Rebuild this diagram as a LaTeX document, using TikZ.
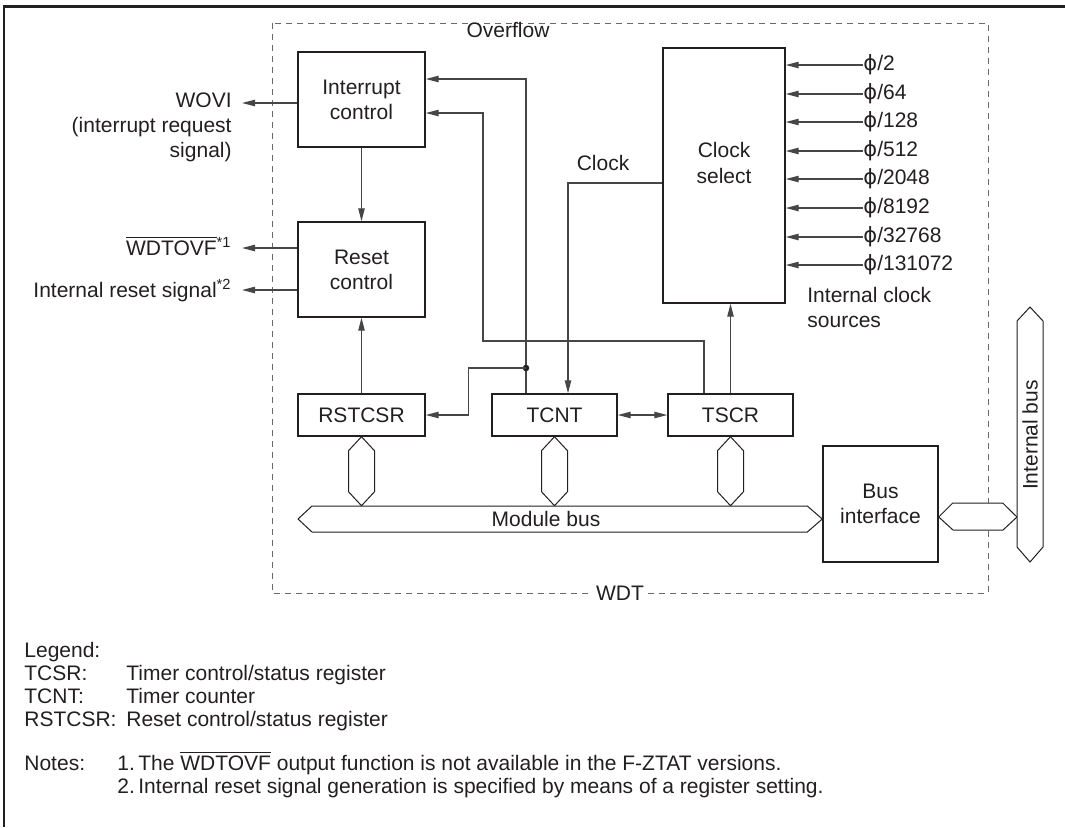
\documentclass[tikz,border=0pt]{standalone}
\usepackage{fontspec}
\setmainfont{Liberation Sans}
\newfontfamily\phifont{DejaVu Sans}
\usepackage{tikz}
\usetikzlibrary{
    calc,
    arrows.meta
}
\definecolor{ink}{RGB}{35,31,32}
\definecolor{filo}{RGB}{70,70,70}
\definecolor{tratto}{RGB}{105,105,105}

\newcommand{\fsym}{{\phifont ϕ}}
\newcommand{\wdtovf}{$\overline{\mbox{WDTOVF}}$}

\begin{document}
\begin{tikzpicture}[x=0.5pt,y=-0.5pt,>={Triangle[length=6.5pt,width=3.2pt]},
    every node/.style={font=\fontsize{10.5}{12.6}\selectfont,text=ink},
    blocco/.style={draw=ink,line width=0.7pt,fill=white,inner sep=0pt,align=center},
    bus/.style={draw=ink,line width=0.5pt,fill=white},
    filo/.style={draw=filo,line width=0.6pt},
    testo/.style={inner sep=0pt}]

\useasboundingbox (0,0) rectangle (1065,827);

%====================================================
% Cornice e riquadro WDT
%====================================================

\draw[ink,line width=1.5pt] (3,6) -- (1065,6);
\draw[ink,line width=1pt] (4,6) -- (4,827);

\draw[tratto,line width=0.5pt,dash pattern=on 3pt off 2.5pt] (272,23) rectangle (988,593);
\node[fill=white,inner sep=2pt] (wdt) at (620,593) {WDT};

%====================================================
% Blocchi
%====================================================

\node[blocco,minimum width=63.5pt,minimum height=47.5pt] (intc) at (361.5,99.5) {Interrupt\\control};
\node[blocco,minimum width=63.5pt,minimum height=47.5pt] (rstc) at (361.5,269.5) {Reset\\control};
\node[blocco,minimum width=61pt,minimum height=127.5pt] (csel) at (724,175.5) {};
\node[testo,align=center] (cseltxt) at (724,163) {Clock\\select};

\node[blocco,minimum width=63.5pt,minimum height=21pt] (rstcsr) at (361.5,415) {RSTCSR};
\node[blocco,minimum width=62.5pt,minimum height=21pt] (tcnt) at (554.5,415) {TCNT};
\node[blocco,minimum width=62.5pt,minimum height=21pt] (tscr) at (730.5,415) {TSCR};

\node[blocco,minimum width=57.5pt,minimum height=58pt] (busif) at (880.5,504) {Bus\\interface};

%====================================================
% Bus
%====================================================

\draw[bus] (rstcsr.south) -- ++(13,14) -- ++(0,41) -- ++(-13,14) -- ++(-13,-14) -- ++(0,-41) -- cycle;
\draw[bus] (tcnt.south) -- ++(13,14) -- ++(0,41) -- ++(-13,14) -- ++(-13,-14) -- ++(0,-41) -- cycle;
\draw[bus] (tscr.south) -- ++(13,14) -- ++(0,41) -- ++(-13,14) -- ++(-13,-14) -- ++(0,-41) -- cycle;

\coordinate (mbl) at (298,519);
\coordinate (mbr) at (busif.west|-mbl);
\draw[bus] (mbl) -- ++(14,-13) -- ($(mbr)+(-15,-13)$) -- (mbr) -- ($(mbr)+(-15,13)$) -- ($(mbl)+(14,13)$) -- cycle;
\node (mbus) at (546,519) {Module bus};

\coordinate (ibl) at (1017,517);
\draw[bus] (busif.east|-ibl) -- ++(14,-14) -- ++(50,0) -- (ibl) -- ++(-14,13) -- ++(-50,0) -- cycle;

\draw[bus] (1030,307) -- (1043,321) -- (1043,547) -- (1030,562) -- (1017,547) -- (1017,321) -- cycle;
\node[rotate=90] (ibus) at (1030,435) {Internal bus};

%====================================================
% Collegamenti interni
%====================================================

\draw[filo,->] (intc) -- (rstc);
\draw[filo,->] (rstcsr) -- (rstc);
\draw[filo,->] (tscr.north) -- (tscr.north|-csel.south);
\draw[filo,<->] (tcnt) -- (tscr);

\coordinate (ovf) at (526,79);
\coordinate (jct) at (526,368);
\draw[filo,->] (tcnt.north-|ovf) -- (ovf) -- (intc.east|-ovf);
\filldraw[ink] (jct) circle (1.4pt);
\draw[filo,->] (jct) -| ($(rstcsr.east)+(43,0)$) -- (rstcsr.east);
\node (ovftxt) at (508,30) {Overflow};

\coordinate (tsr) at (704,341);
\coordinate (tsl) at (483,113);
\draw[filo,->] (tscr.north-|tsr) -- (tsr) -| (tsl) -- (intc.east|-tsl);

\coordinate (clk) at (568,183);
\draw[filo,->] (csel.west|-clk) -- (clk) -- (clk|-tcnt.north);
\node (clktxt) at (603,163) {Clock};

%====================================================
% Sorgenti di clock
%====================================================

\node[testo,anchor=west] (f1) at (863,65) {\fsym/2};
\node[testo,anchor=west] (f2) at (863,94) {\fsym/64};
\node[testo,anchor=west] (f3) at (863,122) {\fsym/128};
\node[testo,anchor=west] (f4) at (863,151) {\fsym/512};
\node[testo,anchor=west] (f5) at (863,179) {\fsym/2048};
\node[testo,anchor=west] (f6) at (863,208) {\fsym/8192};
\node[testo,anchor=west] (f7) at (863,237) {\fsym/32768};
\node[testo,anchor=west] (f8) at (863,265) {\fsym/131072};

\draw[filo,->] (f1.west) -- (csel.east|-f1.west);
\draw[filo,->] (f2.west) -- (csel.east|-f2.west);
\draw[filo,->] (f3.west) -- (csel.east|-f3.west);
\draw[filo,->] (f4.west) -- (csel.east|-f4.west);
\draw[filo,->] (f5.west) -- (csel.east|-f5.west);
\draw[filo,->] (f6.west) -- (csel.east|-f6.west);
\draw[filo,->] (f7.west) -- (csel.east|-f7.west);
\draw[filo,->] (f8.west) -- (csel.east|-f8.west);

\node[testo,align=left,anchor=north west] (src) at (807,287) {Internal clock\\sources};

%====================================================
% Uscite
%====================================================

\coordinate (o1) at (242,103);
\coordinate (o2) at (242,248);
\coordinate (o3) at (242,290);

\draw[filo,->] (intc.west|-o1) -- (o1);
\draw[filo,->] (rstc.west|-o2) -- (o2);
\draw[filo,->] (rstc.west|-o3) -- (o3);

\node[testo,align=right,anchor=north east] (wovi) at (232,92) {WOVI\\(interrupt request\\signal)};
\node[testo,anchor=base east] (wdo) at (232,255) {\wdtovf\textsuperscript{*1}};
\node[testo,anchor=base east] (irs) at (232,297) {Internal reset signal\textsuperscript{*2}};

%====================================================
% Legenda e note
%====================================================

\node[testo,anchor=base west] (lg) at (24,657) {Legend:};
\node[testo,anchor=base west] (lg1) at (24,680) {TCSR:};
\node[testo,anchor=base west] (lg2) at (24,703) {TCNT:};
\node[testo,anchor=base west] (lg3) at (24,726) {RSTCSR:};
\node[testo,anchor=base west] (ds1) at (126,680) {Timer control/status register};
\node[testo,anchor=base west] (ds2) at (126,703) {Timer counter};
\node[testo,anchor=base west] (ds3) at (126,726) {Reset control/status register};

\node[testo,anchor=base west] (nt) at (24,770) {Notes:};
\node[testo,anchor=base west] (n1) at (117,770) {1.};
\node[testo,anchor=base west] (n2) at (117,793) {2.};
\node[testo,anchor=base west] (nt1) at (138,770) {The \wdtovf{} output function is not available in the F-ZTAT versions.};
\node[testo,anchor=base west] (nt2) at (138,793) {Internal reset signal generation is specified by means of a register setting.};
\end{tikzpicture}
\end{document}
